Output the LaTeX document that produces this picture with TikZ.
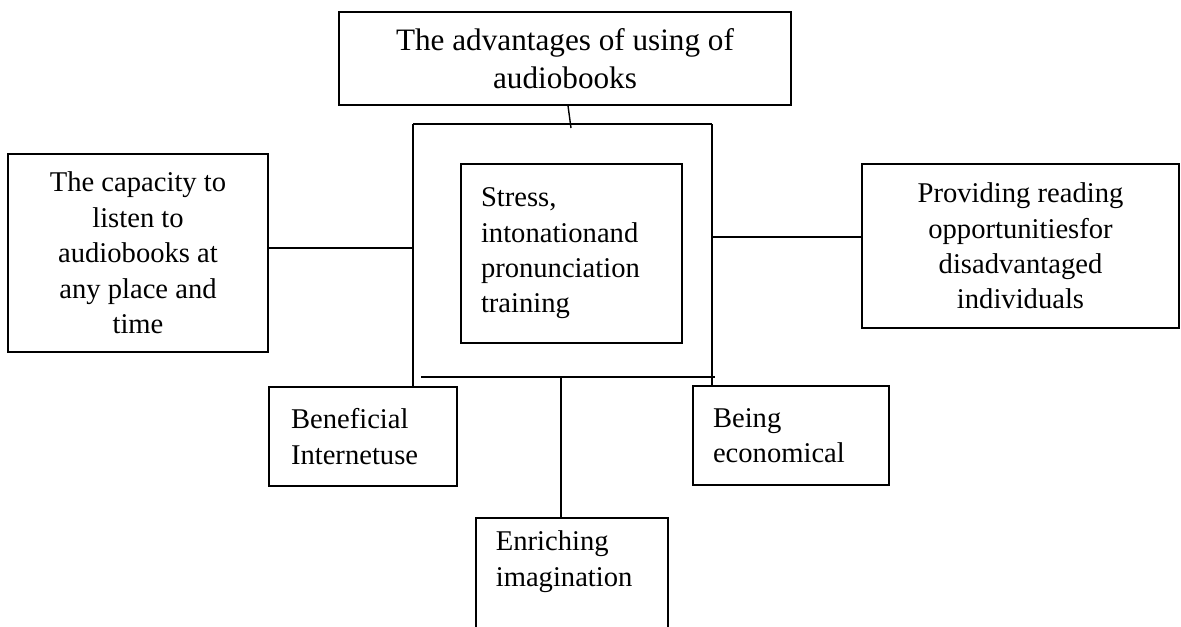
\documentclass[tikz,border=0pt]{standalone}
\usepackage{fontspec}
\setmainfont{Liberation Serif}
\usetikzlibrary{positioning, calc}

\begin{document}
\begin{tikzpicture}[
    x=0.5pt, y=-0.5pt,
    box/.style={rectangle, draw, line width=0.8pt, inner sep=0pt, font=\fontsize{14.3}{17.7}\selectfont},
    centred/.style={box, align=center},
    lefted/.style={box, align=left, inner xsep=10pt},
    link/.style={line width=0.7pt}
]
    \useasboundingbox (0,0) rectangle (1181,626);
    \clip (0,0) rectangle (1181,626);

    \node[centred, minimum width=226pt, minimum height=46.5pt, font=\fontsize{15.6}{19}\selectfont] (title) at (565,58.5) {The advantages of using of\\audiobooks};

    \node[centred, minimum width=130pt, minimum height=99pt] (capacity) at (138,253) {The capacity to\\listen to\\audiobooks at\\any place and\\time};
    \node[lefted, text width=90.5pt, minimum height=89.5pt] (stress) at (571.5,253.5) {Stress,\\intonationand\\pronunciation\\training};
    \node[centred, minimum width=158.5pt, minimum height=82pt] (provide) at (1020.5,246) {Providing reading\\opportunitiesfor\\disadvantaged\\individuals};

    \node[lefted, inner xsep=11pt, text width=72pt, minimum height=49.5pt] (benef) at (363,436.5) {Beneficial\\Internetuse};
    \node[lefted, text width=78pt, minimum height=49.5pt] (econ) at (791,435.5) {Being\\economical};
    % box runs off the bottom of the page
    \node[lefted, text width=76pt, inner ysep=7pt, text height=9.5pt, text depth=80pt, anchor=north west] (enrich) at (475,517) {Enriching\\imagination};

    % frame round the centre box
    \coordinate (tl) at (413,124);
    \coordinate (tr) at (712,124);
    \coordinate (lj) at (413,248);
    \coordinate (rj) at (712,237);
    \coordinate (bl) at (421,377);
    \coordinate (br) at (715,377);
    \coordinate (hub) at (561,377);
    \coordinate (tick) at (571,128);

    \draw[link] ($(title.south)+(3,0)$) -- (tick);
    \draw[link] (tl) -- (tr);
    \draw[link] (tl) -- (tl |- benef.north);
    \draw[link] (tr) -- (tr |- econ.north);
    \draw[link] (lj -| capacity.east) -- (lj);
    \draw[link] (rj) -- (rj -| provide.west);
    \draw[link] (bl) -- (br);
    \draw[link] (hub) -- (hub |- enrich.north);
\end{tikzpicture}
\end{document}
